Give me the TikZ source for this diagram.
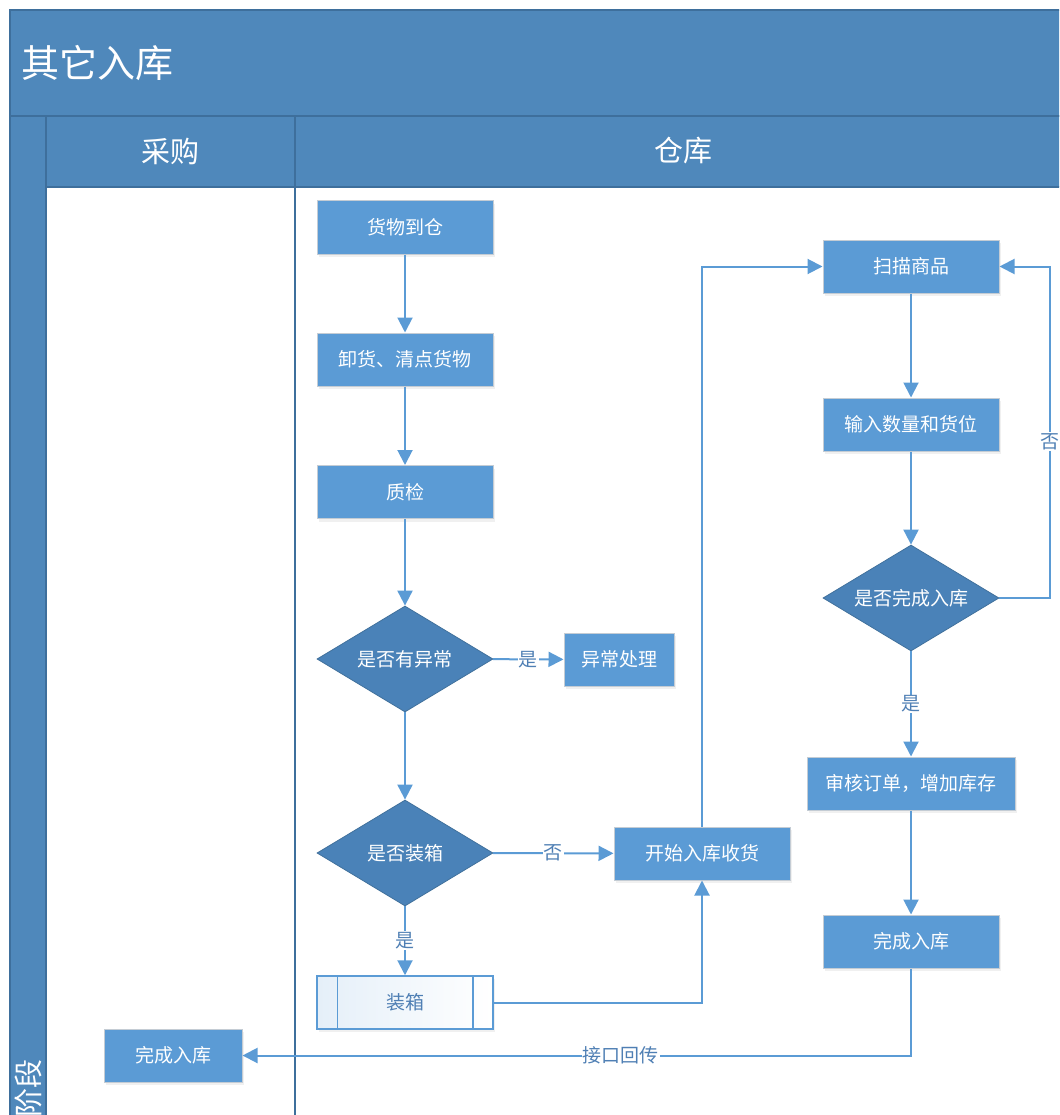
\documentclass[tikz,border=0pt]{standalone}
\usepackage{fontspec}
\newfontfamily\cjk{Noto Sans CJK SC}
\usepackage{tikz}
\usetikzlibrary{arrows.meta,positioning,calc,shapes.geometric,shadows}
\definecolor{hdr}{HTML}{4F88BB}
\definecolor{hdrline}{HTML}{3E6F9C}
\definecolor{pfill}{HTML}{5B9BD5}
\definecolor{dfill}{HTML}{4A82B8}
\definecolor{dline}{HTML}{41719C}
\definecolor{edge}{HTML}{5B9BD5}
\definecolor{lbltxt}{HTML}{4F7FB4}
\definecolor{pgray}{HTML}{C4CCD4}
\tikzset{proc/.style={rectangle, fill=pfill, draw=pgray, line width=1pt, text=white, minimum width=176pt, minimum height=53pt, inner sep=0pt, font=\cjk\fontsize{19}{23}\selectfont, drop shadow={opacity=0.12, shadow xshift=2pt, shadow yshift=-3pt}},
         dec/.style={diamond, aspect=1.66, fill=dfill, draw=dline, line width=0.8pt, text=white, minimum width=176pt, minimum height=106pt, inner sep=0pt, font=\cjk\fontsize{19}{23}\selectfont},
         lbl/.style={fill=white, text=lbltxt, inner sep=1pt, font=\cjk\fontsize{19}{23}\selectfont},
         arr/.style={-{Triangle[length=15pt,width=15pt]}, line width=2pt, edge},
         band/.style={fill=hdr, draw=hdrline, line width=1.5pt}}

\begin{document}
\begin{tikzpicture}[x=1pt,y=-1pt]
\useasboundingbox (0,0) rectangle (1059,1115);
\clip (0,0) rectangle (1059,1115);
% pool and lanes
\draw[band] (10,10) rectangle (1080,116);
\node[anchor=west, text=white, font=\cjk\fontsize{38}{44}\selectfont] (title) at (18,63) {其它入库};
\draw[band] (10,116) rectangle (46,1130);
\node[rotate=90, text=white, font=\cjk\fontsize{29}{34}\selectfont] (phase) at (28,1088) {阶段};
\draw[band] (46,116) rectangle (295,187);
\draw[band] (295,116) rectangle (1080,187);
\node[text=white, font=\cjk\fontsize{29}{34}\selectfont] (lanebuy) at (170,151) {采购};
\node[text=white, font=\cjk\fontsize{29}{34}\selectfont] (lanewh) at (683,151) {仓库};
\draw[hdrline, line width=1.5pt] (46,187) -- (46,1130) (295,187) -- (295,1130);
% left column of the warehouse lane
\node[proc] (arrive) at (405,227.5) {货物到仓};
\node[proc] (unload) at (405,359.5) {卸货、清点货物};
\node[proc] (qc) at (405,492) {质检};
\node[dec] (abn) at (405,659) {是否有异常};
\node[proc, minimum width=110pt] (handle) at (619,659.5) {异常处理};
\node[dec] (box) at (405,853) {是否装箱};
\node[proc, fill=white, text=lbltxt, draw=edge, line width=1.5pt, left color=pfill!16, right color=white, drop shadow={opacity=0}] (packing) at (405,1002.5) {装箱};
\draw[edge, line width=1.5pt] ($(packing.north west)+(21,0)$) -- ($(packing.south west)+(21,0)$)
      ($(packing.north east)+(-21,0)$) -- ($(packing.south east)+(-21,0)$);
\node[proc] (start) at (702,853.5) {开始入库收货};
% right column
\node[proc] (scan) at (911,266.5) {扫描商品};
\node[proc] (qty) at (911,424.5) {输入数量和货位};
\node[dec] (done) at (911,598) {是否完成入库};
\node[proc, minimum width=208pt] (audit) at (911,783.5) {审核订单，增加库存};
\node[proc] (fin) at (911,941.5) {完成入库};
\node[proc, minimum width=138pt] (finbuy) at (173,1055.5) {完成入库};
% connectors
\draw[arr] (arrive) -- (unload);
\draw[arr] (unload) -- (qc);
\draw[arr] (qc) -- (abn);
\draw[arr] (abn) -- node[lbl] {是} (handle);
\draw[arr] (abn) -- (box);
\draw[arr] (box) -- node[lbl] {否} (start);
\draw[arr] (box) -- node[lbl] {是} (packing);
\draw[arr] (packing.east) -| (start.south);
\draw[arr] (start.north) |- (scan.west);
\draw[arr] (scan) -- (qty);
\draw[arr] (qty) -- (done);
\draw[arr] (done.east) -- ++(51,0) |- node[lbl, pos=0.236] {否} (scan.east);
\draw[arr] (done) -- node[lbl] {是} (audit);
\draw[arr] (audit) -- (fin);
\draw[arr] (fin.south) |- node[lbl, pos=0.717] {接口回传} (finbuy.east);
\end{tikzpicture}
\end{document}
